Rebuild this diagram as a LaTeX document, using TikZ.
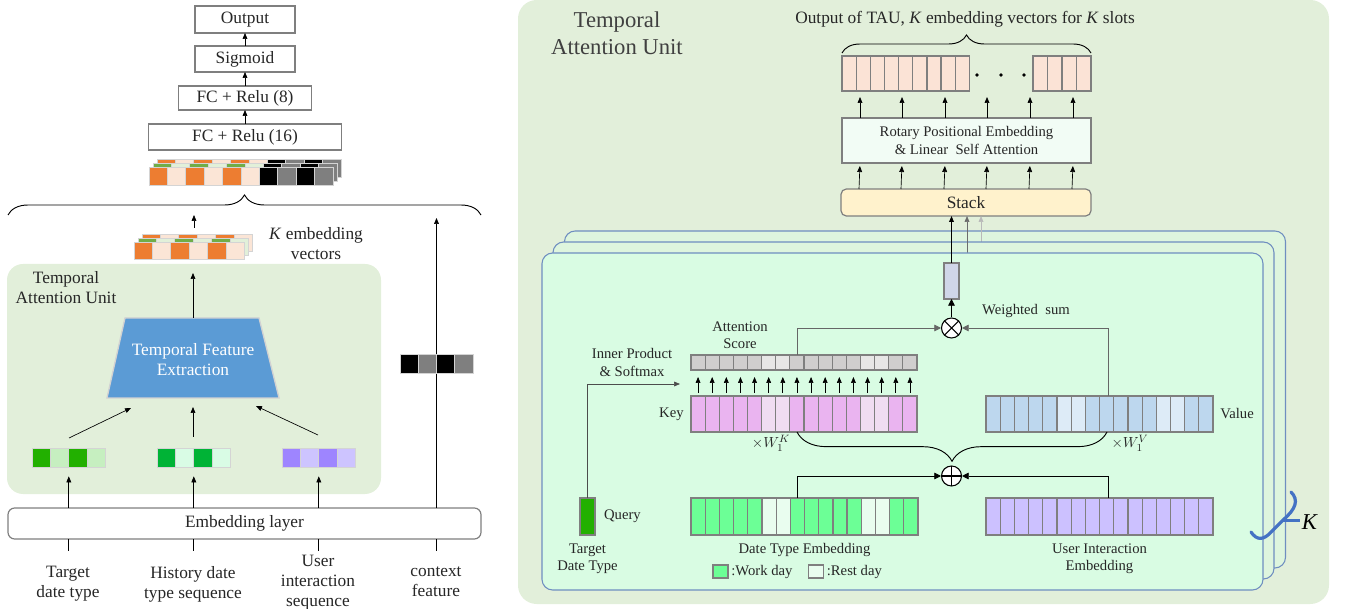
\documentclass[tikz,border=0pt]{standalone}
\usepackage{fontspec}
\setmainfont{Liberation Serif}
\usetikzlibrary{arrows.meta,positioning,calc,decorations.pathreplacing}

\definecolor{tau}{HTML}{E2EFDA}
\definecolor{boxgray}{HTML}{7F7F7F}
\definecolor{cellline}{HTML}{D4D4D4}
\definecolor{txt}{HTML}{262626}
\definecolor{orng}{HTML}{ED7D31}
\definecolor{peach}{HTML}{FBE5D6}
\definecolor{egreen}{HTML}{70AD47}
\definecolor{lgreen}{HTML}{E2F0D9}
\definecolor{cgray}{HTML}{7F7F7F}
\definecolor{tfeblue}{HTML}{5B9BD5}
\definecolor{vonea}{HTML}{22B000}
\definecolor{voneb}{HTML}{C6EFC0}
\definecolor{vtwoa}{HTML}{00B336}
\definecolor{vtwob}{HTML}{D9FCE5}
\definecolor{vthra}{HTML}{9E85FF}
\definecolor{vthrb}{HTML}{CDC4FF}
\definecolor{outpeach}{HTML}{FBE3D6}
\definecolor{rotfill}{HTML}{F2FCF5}
\definecolor{stackfill}{HTML}{FFF2CC}
\definecolor{laybord}{HTML}{6F8EC0}
\definecolor{mint}{HTML}{D9FCE3}
\definecolor{layback}{HTML}{DEF5DE}
\definecolor{scA}{HTML}{D0CECE}
\definecolor{scB}{HTML}{E7E6E6}
\definecolor{keyA}{HTML}{EAB4F0}
\definecolor{keyB}{HTML}{F0DDF2}
\definecolor{valA}{HTML}{BDD7EE}
\definecolor{valB}{HTML}{DDEBF7}
\definecolor{dtA}{HTML}{6CFF96}
\definecolor{dtB}{HTML}{E9FDEF}
\definecolor{usrA}{HTML}{CCC1FF}
\definecolor{wsumfill}{HTML}{D0D6E8}
\definecolor{kblue}{HTML}{4472C4}

\begin{document}
\begin{tikzpicture}[
        x=0.75pt, y=-0.75pt,
        txtL/.style={font=\fontsize{13}{15}\selectfont, text=txt},
        txtS/.style={font=\fontsize{11}{13}\selectfont, text=txt},
        box/.style={draw=boxgray, fill=white, line width=0.9pt, inner sep=0pt, txtL},
        vec/.style 2 args={minimum width=#1*0.75pt, minimum height=#2*0.75pt, inner sep=0pt, outer sep=0pt},
        cell/.style={draw=cellline, line width=0.5pt},
        rcell/.style={draw=boxgray, line width=0.9pt},
        arr/.style={-{Triangle[length=4.5pt,width=3.6pt]}, line width=0.5pt},
        bigarr/.style={-{Triangle[length=5pt,width=5pt]}, line width=0.6pt},
        curly/.style={decorate, decoration={brace, amplitude=#1}, line width=0.7pt},
        layer/.style={draw=laybord, line width=0.8pt, rounded corners=8pt, minimum width=721*0.75pt, minimum height=337*0.75pt},
        sumnode/.style={circle, draw, fill=white, line width=0.8pt, minimum size=15pt, inner sep=0pt},
        lab/.style={txtL, align=center, anchor=north, inner sep=0pt}
    ]
    \useasboundingbox (0,0) rectangle (1346,609);

    % ---------------- left: whole model ----------------
    \fill[tau, rounded corners=12pt] (7,264) rectangle (381,494);
    \node[txtL, align=center] (tauL) at (66,288) {Temporal\\Attention Unit};

    \node[box, vec={100}{27}] (out) at (245,19.5) {Output};
    \node[box, vec={100}{26}] (sig) at (245,59) {Sigmoid};
    \node[box, vec={133}{24}] (fc8) at (245,98) {FC + Relu (8)};
    \node[box, vec={193}{26}] (fc16) at (245,137) {FC + Relu (16)};
    \draw[arr] (fc16) -- (fc8);
    \draw[arr] (fc8) -- (sig);
    \draw[arr] (sig) -- (out);

    % concatenated vectors (K layers)
    \node[vec={184}{18}] (fused) at (241,176) {};
    \foreach \s/\ca/\cb in {8/orng/peach, 4/egreen/lgreen, 0/orng/peach}
        \foreach \c [count=\i from 0] in {\ca,\cb,\ca,\cb,\ca,\cb,black,cgray,black,cgray}
            \draw[cell, fill=\c] ($(fused.north west)+(\s+\i*18.4,-\s)$) rectangle ++(18.4,18);

    \coordinate (bl) at (8,215);
    \coordinate (br) at (481,215);
    \draw[curly=15pt] (bl) -- (br);

    % K embedding vectors
    \node[vec={110}{17}] (kvecs) at (189,250.5) {};
    \foreach \s/\ca/\cb in {8/orng/peach, 4/egreen/lgreen, 0/orng/peach}
        \foreach \c [count=\i from 0] in {\ca,\cb,\ca,\cb,\ca,\cb}
            \draw[cell, fill=\c] ($(kvecs.north west)+(\s+\i*18.4,-\s)$) rectangle ++(18.4,17);
    \coordinate (kvtop) at (194,228);
    \draw[arr] (kvtop) -- (kvtop |- bl);
    \node[txtL, align=center] (kvlab) at (316,243.5) {\textit{K} embedding\\vectors};

    % temporal feature extraction
    \draw[draw=gray!35, fill=tfeblue, line width=1pt] (125,318) -- (259,318) -- (279,398) -- (107,398) -- cycle;
    \node[vec={172}{80}, align=center, text=white, font=\fontsize{13}{15}\selectfont] (tfe) at (193,360) {Temporal Feature\\Extraction};
    \draw[arr, shorten >=10.5pt] (193,318) -- (kvecs.south -| 193,0);

    \node[vec={73.6}{19}] (v1) at (68.8,457.5) {};
    \node[vec={73.6}{19}] (v2) at (193.8,457.5) {};
    \node[vec={73.6}{19}] (v3) at (318.8,457.5) {};
    \foreach \v/\ca/\cb in {v1/vonea/voneb, v2/vtwoa/vtwob, v3/vthra/vthrb}
        \foreach \c [count=\i from 0] in {\ca,\cb,\ca,\cb}
            \draw[cell, fill=\c] ($(\v.north west)+(\i*18.4,0)$) rectangle ++(18.4,19);

    \coordinate (tfeL) at (131,408);
    \coordinate (tfeM) at (193,407);
    \coordinate (tfeR) at (256,406);
    \draw[arr] (69,438) -- (tfeL);
    \draw[arr] (193,437) -- (tfeM);
    \draw[arr] (318,435) -- (tfeR);

    % context feature
    \node[box, rounded corners=5pt, vec={473}{31}] (emb) at (244.5,523.5) {Embedding layer};
    \node[vec={73}{19}] (ctx) at (436.5,363.5) {};
    \draw[arr, shorten >=2.25pt] (emb.north -| ctx) -- (ctx |- bl);
    \foreach \c [count=\i from 0] in {black,cgray,black,cgray}
        \draw[cell, fill=\c] ($(ctx.north west)+(\i*18.25,0)$) rectangle ++(18.25,19);

    \draw[arr, shorten >=7pt] (emb.north -| v1) -- (v1.south);
    \draw[arr, shorten >=7pt] (emb.north -| v2) -- (v2.south);
    \draw[arr, shorten >=7pt] (emb.north -| v3) -- (v3.south);

    \node[lab] (tgt) at (68,566) {Target\\date type};
    \node[lab] (hist) at (193,566) {History date\\type sequence};
    \node[lab] (usr) at (318,555) {User\\interaction\\sequence};
    \node[lab] (cf) at (436,566) {context\\feature};
    \foreach \l in {tgt,hist,usr,cf}
        \draw[line width=0.5pt] (emb.south -| \l) -- +(0,12);

    % ---------------- right: temporal attention unit ----------------
    \fill[tau, rounded corners=14pt] (518,0) rectangle (1329,604);
    \node[align=center, font=\fontsize{17}{20}\selectfont, text=black!75] (tauR) at (617,33) {Temporal\\Attention Unit};
    \node[txtL] (outtxt) at (965,19.5) {Output of TAU, \textit{K} embedding vectors for \textit{K} slots};

    \node[vec={249}{35}] (outvec) at (966.5,73.5) {};
    \foreach \i in {0,...,8}
        \draw[rcell, fill=outpeach] ($(outvec.north west)+(\i*14.15,0)$) rectangle ++(14.15,35);
    \foreach \i in {0,...,3}
        \draw[rcell, fill=outpeach] ($(outvec.north east)+(-58+\i*14.5,0)$) rectangle ++(14.5,35);
    \foreach \x in {977,1001,1024}
        \fill (\x,75) circle (1.4pt);
    \draw[curly=13.5pt] ([yshift=2.25pt]outvec.north west) -- ([yshift=2.25pt]outvec.north east);

    \node[box, fill=rotfill, vec={249}{45}, txtS, align=center] (rot) at (966.5,140.5) {Rotary Positional Embedding\\\& Linear\ \ Self Attention};
    \node[box, fill=stackfill, rounded corners=4pt, vec={250}{27}] (stack) at (966,202.5) {Stack};
    \foreach \d in {18,60,103,145,188,231} {
        \draw[arr, shorten >=4.5pt] ([xshift=\d*0.75pt]rot.north west) -- ([xshift=\d*0.75pt]outvec.south west);
        \draw[arr, shorten >=2.25pt] ([xshift=\d*0.75pt]stack.north west) -- ([xshift=\d*0.75pt]rot.south west);
    }

    % K stacked copies
    \coordinate (in2) at (967,262);
    \coordinate (in3) at (981,250);
    \node[layer, fill=layback] (lay3) at (925,399.5) {};
    \draw[arr, color=gray!55] (in3) -- (in3 |- stack.south);
    \node[layer, fill=layback] (lay2) at (913.5,410.5) {};
    \draw[arr, color=gray!85!black] (in2) -- (in2 |- stack.south);
    \node[layer, fill=mint] (lay1) at (902.5,421.5) {};

    \draw[kblue, line width=2.4pt, line cap=round] (1251,532) .. controls (1257,541) and (1264,540) .. (1271,532) -- (1283,520) .. controls (1296,509) and (1299,500) .. (1291,492);
    \draw[kblue, line width=2.4pt] (1283,520.5) -- (1300,520.5);
    \node[font=\fontsize{17}{20}\selectfont] (klab) at (1310,522) {\textit{K}};

    % weighted sum
    \node[rcell, fill=wsumfill, vec={15}{36}] (wsum) at (951.5,281) {};
    \draw[arr, line width=0.6pt] (wsum.north) -- (wsum.north |- stack.south);
    \node[sumnode, path picture={
            \draw (path picture bounding box.north west) -- (path picture bounding box.south east)
                  (path picture bounding box.south west) -- (path picture bounding box.north east);}] (prod) at (951.5,328) {};
    \draw[bigarr] (prod) -- (wsum);
    \node[txtS] (wslab) at (1026,311) {Weighted\ \ sum};

    % attention score, key, value
    \node[vec={226}{15}] (score) at (804,362.5) {};
    \node[vec={226}{36}] (key) at (804,414) {};
    \node[vec={227}{36}] (val) at (1099.5,414) {};
    \foreach \c [count=\i from 0] in {scA,scA,scA,scA,scA,scB,scB,scA,scA,scA,scA,scA,scB,scB,scA,scA}
        \draw[rcell, fill=\c] ($(score.north west)+(\i*14.125,0)$) rectangle ++(14.125,15);
    \foreach \c [count=\i from 0] in {keyA,keyA,keyA,keyA,keyA,keyB,keyB,keyA,keyA,keyA,keyA,keyA,keyB,keyB,keyA,keyA}
        \draw[rcell, fill=\c] ($(key.north west)+(\i*14.125,0)$) rectangle ++(14.125,36);
    \foreach \c [count=\i from 0] in {valA,valA,valA,valA,valA,valB,valB,valA,valA,valA,valA,valA,valB,valB,valA,valA}
        \draw[rcell, fill=\c] ($(val.north west)+(\i*14.19,0)$) rectangle ++(14.19,36);
    \foreach \i in {0,...,15}
        \draw[arr] ($(key.north west)+(7.06+\i*14.125,-3)$) -- ($(score.south west)+(7.06+\i*14.125,7)$);

    \node[txtS, align=center] (attlab) at (740,335.5) {Attention\\Score};
    \node[txtS, align=center] (ipsm) at (632,362.5) {Inner Product\\\& Softmax};
    \node[txtS, left=2pt of key] (keylab) {Key};
    \node[txtS, right=2pt of val] (vallab) {Value};
    \node[txtS] (wk) at (771,443) {$\times W^{K}_{1}$};
    \node[txtS] (wv) at (1130,443) {$\times W^{V}_{1}$};

    \draw[bigarr, draw=black!60] ($(score.north west)+(106,0)$) |- (prod.west);
    \draw[bigarr, draw=black!60] ($(val.north west)+(122,0)$) |- (prod.east);

    \node[sumnode, path picture={
            \draw (path picture bounding box.north) -- (path picture bounding box.south)
                  (path picture bounding box.west) -- (path picture bounding box.east);}] (plus) at (951.5,476) {};
    \draw[curly=22pt] ($(val.south west)+(121,0)$) -- ($(key.south west)+(106,0)$);

    % query and embeddings
    \node[rcell, fill=vonea, vec={15}{37}] (query) at (587.5,516.5) {};
    \node[vec={227}{37}] (date) at (804.5,516.5) {};
    \node[vec={227}{37}] (user) at (1099.5,516.5) {};
    \foreach \c [count=\i from 0] in {dtA,dtA,dtA,dtA,dtA,dtB,dtB,dtA,dtA,dtA,dtA,dtA,dtB,dtB,dtA,dtA}
        \draw[rcell, fill=\c] ($(date.north west)+(\i*14.19,0)$) rectangle ++(14.19,37);
    \foreach \i in {0,...,15}
        \draw[rcell, fill=usrA] ($(user.north west)+(\i*14.19,0)$) rectangle ++(14.19,37);

    \coordinate (ipin) at (680,384);
    \draw[arr, draw=black!70] (query.north) |- (ipin);
    \draw[bigarr] ($(date.north west)+(106,0)$) |- (plus.west);
    \draw[bigarr] ($(user.north west)+(122,0)$) |- (plus.east);

    \node[txtS, right=3.3pt of query] (qlab) {Query};
    \node[txtS, align=center, below=3pt of query] (tdt) {Target\\Date Type};
    \node[txtS, below=3pt of date] (dtlab) {Date Type Embedding};
    \node[txtS, align=center, below=3pt of user] (uilab) {User Interaction\\Embedding};

    \node[rcell, fill=dtA, vec={15}{13}] (wbox) at (720.5,571.5) {};
    \node[txtS, right=-1pt of wbox] (wlab) {:Work day};
    \node[rcell, fill=dtB, vec={15}{13}] (rbox) at (816,571.5) {};
    \node[txtS, right=-1pt of rbox] (rlab) {:Rest day};
\end{tikzpicture}
\end{document}
